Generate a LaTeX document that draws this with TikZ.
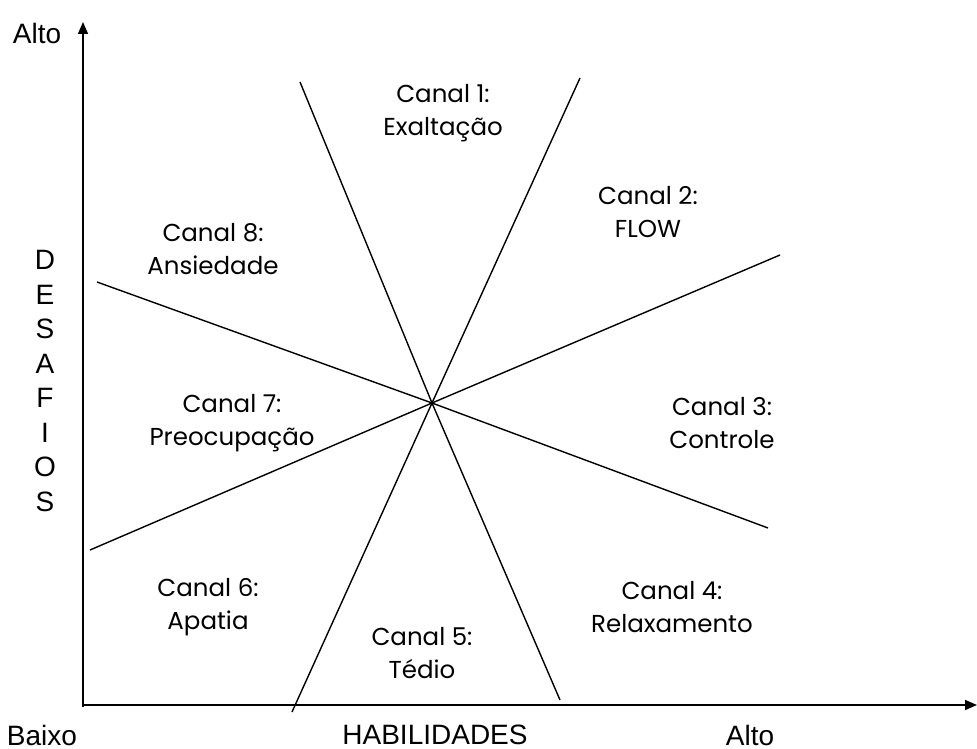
\documentclass[tikz,border=0pt]{standalone}
\usepackage{fontspec}
\setmainfont{Liberation Sans}
\newfontfamily\cg{Poppins}
\usetikzlibrary{arrows.meta}
\begin{document}
\begin{tikzpicture}[x=1pt,y=-1pt,
  ax/.style={line width=1.6pt,-{Triangle[length=12pt,width=10pt]}},
  ln/.style={line width=1.4pt},
  lbl/.style={font=\fontsize{28}{30}\selectfont,inner sep=0pt},
  ch/.style={font=\cg\fontsize{24.5}{33}\selectfont,align=center,inner sep=0pt}]
\useasboundingbox (0,0) rectangle (977,749);
\coordinate (o) at (83,705);
\coordinate (ytop) at (83,22);
\coordinate (xend) at (977,705);
\draw[ax] (83,707) -- (ytop);
\draw[ax] (82,705) -- (xend);
\coordinate (c) at (432,403);
\coordinate (a1) at (580,78);  \coordinate (a2) at (292,712);
\coordinate (b1) at (300,82);  \coordinate (b2) at (560,700);
\coordinate (c1) at (780,255); \coordinate (c2) at (90,550);
\coordinate (d1) at (97,282);  \coordinate (d2) at (768,528);
\draw[ln] (a1) -- (c) -- (a2);
\draw[ln] (b1) -- (c) -- (b2);
\draw[ln] (c1) -- (c) -- (c2);
\draw[ln] (d1) -- (c) -- (d2);
\node[lbl] (altoy) at (37,33) {Alto};
\node[lbl] (baixo) at (42,735) {Baixo};
\node[lbl] (hab) at (435,735) {HABILIDADES};
\node[lbl] (altox) at (750,735) {Alto};
\node[font=\fontsize{28}{34.5}\selectfont,align=center,inner sep=0pt] (des) at (45,381) {D\\E\\S\\A\\F\\I\\O\\S};
\node[ch] (k1) at (443,113) {Canal 1:\\Exaltação};
\node[ch] (k2) at (648,212) {Canal 2:\\FLOW};
\node[ch] (k3) at (722,423) {Canal 3:\\Controle};
\node[ch] (k4) at (672,607) {Canal 4:\\Relaxamento};
\node[ch] (k5) at (422,653) {Canal 5:\\Tédio};
\node[ch] (k6) at (208,607) {Canal 6:\\Apatia};
\node[ch] (k7) at (232,423) {Canal 7:\\Preocupação};
\node[ch] (k8) at (213,249) {Canal 8:\\Ansiedade};
\end{tikzpicture}
\end{document}
